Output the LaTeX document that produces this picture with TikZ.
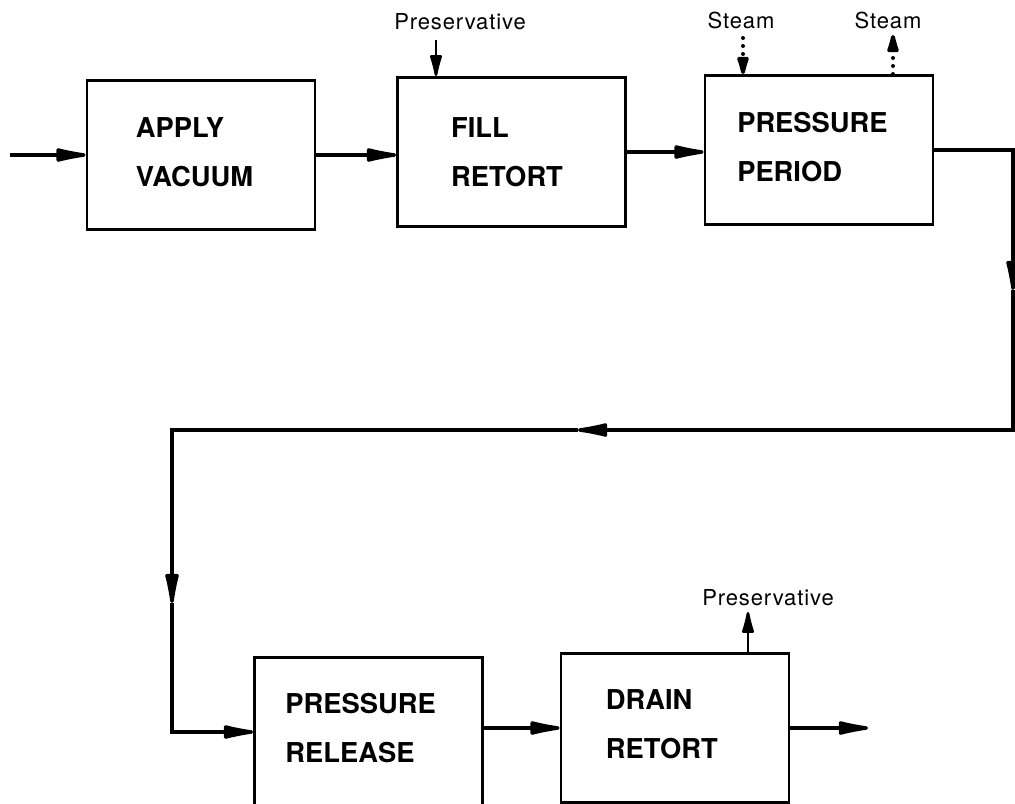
\documentclass[tikz,border=0pt]{standalone}
\usepackage{fontspec}
\setmainfont{TeX Gyre Heros}
\usetikzlibrary{arrows.meta,positioning}

\begin{document}
\begin{tikzpicture}[x=0.75pt,y=0.75pt,
box/.style={draw,line width=2pt,minimum width=171pt,minimum height=112pt,inner sep=0pt},
txt/.style={align=left,font=\bfseries\fontsize{20.5}{37}\selectfont,inner sep=0pt},
tag/.style={font=\addfontfeature{LetterSpace=4}\fontsize{16.5}{18}\selectfont,inner sep=0pt},
flow/.style={-{Latex[round,length=32pt,width=11pt]},line width=2.6pt},
feed/.style={-{Latex[round,length=21pt,width=10pt]},line width=2pt},
vapour/.style={feed,line width=3pt,dash pattern=on 0pt off 6pt,line cap=round}]
\clip (0,0) rectangle (1015,-804);
\node[box] (vacuum) at (201,-155) {};
\node[box] (fill) at (511.5,-152) {};
\node[box] (pressure) at (819,-150) {};
\node[box] (release) at (368.5,-732) {};
\node[box] (drain) at (675,-728) {};
\node[txt,right=37.5pt of vacuum.west,yshift=2pt] (vacuumtxt) {APPLY\\VACUUM};
\node[txt,right=41pt of fill.west] (filltxt) {FILL\\RETORT};
\node[txt,right=25pt of pressure.west,yshift=2pt] (pressuretxt) {PRESSURE\\PERIOD};
\node[txt,right=24pt of release.west,yshift=3pt] (releasetxt) {PRESSURE\\RELEASE};
\node[txt,right=34.5pt of drain.west,yshift=3pt] (draintxt) {DRAIN\\RETORT};
\node[tag] (prestop) at (460,-22) {Preservative};
\node[tag] (steamin) at (741,-20) {Steam};
\node[tag] (steamout) at (888,-20) {Steam};
\node[tag] (presbot) at (768,-598) {Preservative};
\coordinate (start) at (10,-155);
\coordinate (presin) at (436,-40);
\coordinate (steamtop) at (743,-38);
\coordinate (steamup) at (893,-35);
\coordinate (presout) at (748,-612);
\coordinate (downR) at (1013,-290);
\coordinate (back) at (578,-430);
\coordinate (downL) at (172,-603);
\coordinate (finish) at (868,-728);
\draw[flow] (start) -- (vacuum.west);
\draw[flow] (vacuum.east) -- (vacuum.east -| fill.west);
\draw[flow] (fill.east) -- (fill.east -| pressure.west);
\draw[feed] (presin) -- (presin |- fill.north);
\draw[vapour] (steamtop) -- (steamtop |- pressure.north);
\draw[vapour] (steamup |- pressure.north) -- (steamup);
\draw[flow] (pressure.east) -| (downR);
\draw[flow] (downR) |- (back);
\draw[flow] (back) -| (downL);
\draw[flow] (downL) |- (release.west);
\draw[flow] (drain.west -| release.east) -- (drain.west);
\draw[flow] (drain.east) -- (finish);
\draw[feed] (presout |- drain.north) -- (presout);
\end{tikzpicture}
\end{document}
